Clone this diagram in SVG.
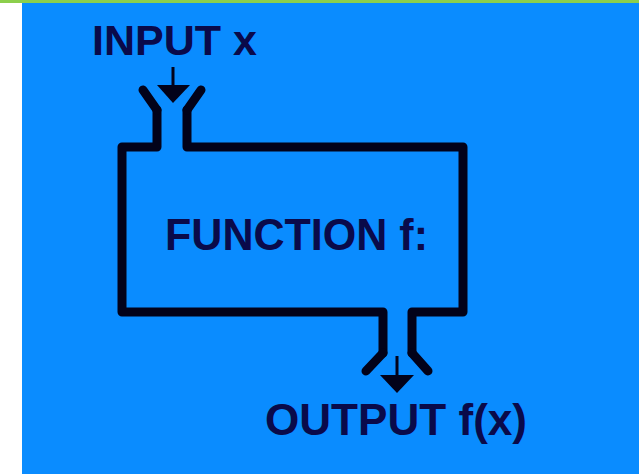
<svg xmlns="http://www.w3.org/2000/svg" width="639" height="474" viewBox="0 0 639 474">
<style>
.ln{fill:none;stroke:#02021a;stroke-width:9;stroke-linejoin:round;stroke-linecap:round}
.ar{fill:none;stroke:#02021a;stroke-width:3}
.hd{fill:#02021a}
.t{font-family:"Liberation Sans",Arial,sans-serif;font-weight:bold;fill:#0a0a4a}
</style>
<rect x="0" y="0" width="639" height="474" fill="#ffffff"/>
<rect x="0" y="0" width="639" height="3" fill="#8ccf4c"/>
<rect x="22" y="3" width="617" height="471" fill="#0a8cff"/>
<g id="function">
<path class="ln" d="M157,110 L157,147 L122,147 L122,312 L383,312 L383,353"/>
<path class="ln" d="M187,110 L187,147 L463,147 L463,312 L412,312 L412,353"/>
<path class="ln" d="M157,110 L143,90"/>
<path class="ln" d="M187,110 L201,90"/>
<path class="ln" d="M383,353 L366,371"/>
<path class="ln" d="M412,353 L428,371"/>
<text class="t" x="165" y="250" font-size="44" textLength="263" lengthAdjust="spacingAndGlyphs">FUNCTION f:</text>
</g>
<g id="input">
<text class="t" x="92" y="55" font-size="42" textLength="165" lengthAdjust="spacingAndGlyphs">INPUT x</text>
</g>
<g id="output">
<text class="t" x="265" y="435" font-size="44" textLength="262" lengthAdjust="spacingAndGlyphs">OUTPUT f(x)</text>
</g>
<g id="connectors">
<line class="ar" x1="173" y1="67" x2="173" y2="88"/>
<polygon class="hd" points="157,85 190,85 173,103"/>
<line class="ar" x1="397" y1="356" x2="397" y2="378"/>
<polygon class="hd" points="380,375 414,375 397,393"/>
</g>
</svg>
